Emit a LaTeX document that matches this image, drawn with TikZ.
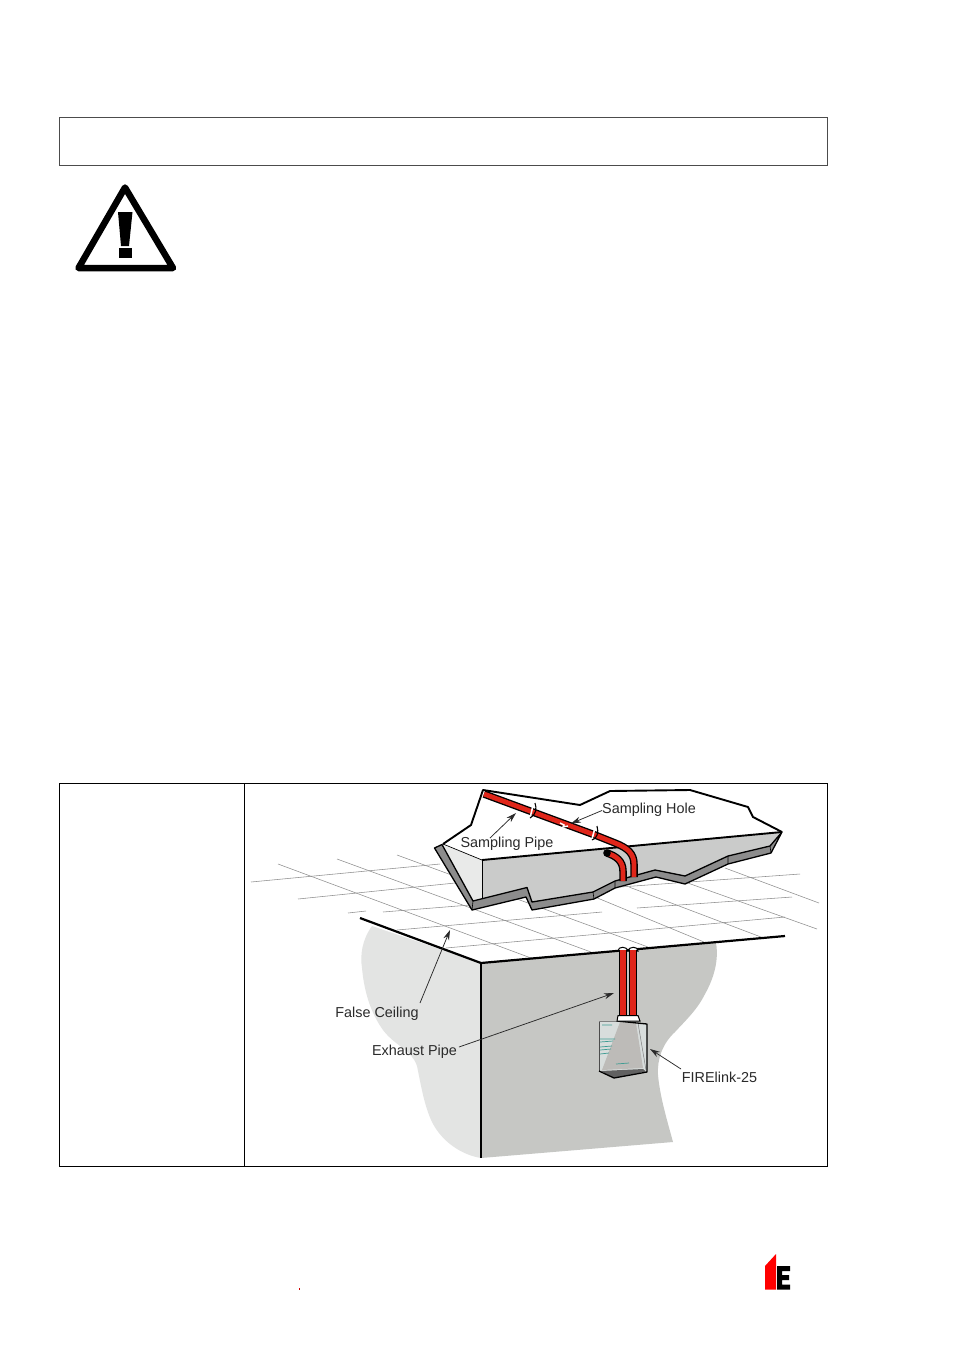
\documentclass[tikz,border=0pt]{standalone}
\usepackage{fontspec}
\setmainfont{Liberation Sans}
\usetikzlibrary{arrows.meta}
\definecolor{wallD}{HTML}{C6C7C4}
\definecolor{wallL}{HTML}{E3E4E3}
\definecolor{pipeR}{HTML}{E0261A}
\definecolor{strip}{HTML}{8C8C8C}
\definecolor{slabF}{HTML}{CACBCA}
\definecolor{slabL}{HTML}{E9EAE9}
\definecolor{gridC}{HTML}{8E8E8E}
\definecolor{labelC}{HTML}{2A2A2A}
\definecolor{teal}{HTML}{3F9C93}
\definecolor{panel}{HTML}{D8DDDC}
\definecolor{wedge}{HTML}{BDBBB8}
\tikzset{
  frame/.style={draw=black,line width=0.9pt},
  gridline/.style={draw=gridC,line width=0.55pt},
  ink/.style={draw=black,line width=1.9pt,line join=round},
  lbl/.style={font=\fontsize{14.4}{16}\selectfont,text=labelC,inner sep=0pt},
  pointer/.style={draw=labelC,line width=0.75pt,-{Stealth[length=10pt,width=6pt]}},
  pipeout/.style={draw=black,line width=8pt},
  pipein/.style={draw=pipeR,line width=5.6pt},
}
\begin{document}
\begin{tikzpicture}[x=1pt,y=-1pt]
\useasboundingbox (0,0) rectangle (954,1350);
\fill[white] (0,0) rectangle (954,1350);

% top box and table
\node[frame,draw=black!70,line width=0.7pt,minimum width=768.5pt,minimum height=48pt,inner sep=0pt] (topbox) at (443.5,141) {};
\node[frame,minimum width=768.5pt,minimum height=383pt,inner sep=0pt] (table) at (443.5,974.5) {};
\coordinate (divT) at (244.5,783);
\coordinate (divB) at (244.5,1166);
\draw[frame] (divT) -- (divB);

% warning sign
\draw[draw=black,line width=6.5pt,line join=round,fill=white] (125,187.5) -- (173,268) -- (78.5,268) -- cycle;
\fill[black] (118,212) -- (132.5,212) -- (129,246) -- (121,246) -- cycle;
\fill[black] (118.5,247.5) rectangle (131.5,257.5);

% wall blobs
\fill[wallL] (372,926) .. controls (362,940) and (360,955) .. (362,968)
  .. controls (364,990) and (370,1012) .. (383,1030)
  .. controls (395,1046) and (412,1050) .. (417,1066)
  .. controls (421,1085) and (424,1105) .. (432,1122)
  .. controls (442,1142) and (462,1155) .. (481,1158)
  -- (481,963) -- cycle;
\fill[wallD] (481,963) -- (716,943)
  .. controls (719,960) and (714,978) .. (705,994)
  .. controls (697,1010) and (686,1020) .. (675,1032)
  .. controls (662,1044) and (657,1060) .. (658,1075)
  .. controls (660,1097) and (667,1120) .. (673,1142)
  -- (481,1158) -- cycle;

% grid
\draw[gridline] (278,864) -- (531,958);
\draw[gridline] (337,859) -- (591,952);
\draw[gridline] (397,855) -- (648,947);
\draw[gridline] (595,897) -- (704,942);
\draw[gridline] (629,887) -- (761,937);
\draw[gridline] (685,882) -- (817,929);
\draw[gridline] (725,868) -- (819,903);
\draw[gridline] (251,882) -- (440,864);
\draw[gridline] (620,887) -- (800,874);
\draw[gridline] (298,899) -- (455,883);
\draw[gridline] (637,908) -- (792,897);
\draw[gridline] (348,913) -- (366,911);
\draw[gridline] (383,912) -- (470,905);
\draw[gridline] (397,930) -- (602,912);
\draw[gridline] (446,948) -- (785,917);

% ceiling and wall edge
\draw[draw=black,line width=2.2pt,line join=round] (360,918) -- (481,963) -- (785,936);
\draw[draw=black,line width=1.5pt] (481,963) -- (481,1158);

% slab
\fill[white] (483,790) -- (580,805) -- (610,791) -- (690,790) -- (748,807) -- (753,817) -- (782,832) -- (482,860) -- (443,844) -- (470,825) -- cycle;
\draw[ink] (443,844) -- (471,825) -- (483,790) -- (580,805) -- (610,791) -- (690,790) -- (748,807) -- (753,817) -- (782,832);
\filldraw[fill=slabL,draw=none] (443,845) -- (482,860) -- (482,900) -- (473,902) -- cycle;
\filldraw[fill=slabF,draw=none] (482,860) -- (782,832) -- (770,847) -- (728,857) -- (685,877) -- (655,871) -- (615,882) -- (593,893) -- (532,903) -- (527,888) -- (482,900) -- cycle;
\draw[draw=black,line width=0.7pt] (443,844) -- (482,860);
\draw[ink] (482,860) -- (782,832);
\draw[draw=black,line width=1pt] (482,860) -- (482,900);
% slab bottom strip
\filldraw[fill=strip,draw=black,line width=1.3pt,line join=round]
  (434.5,848) -- (442,844.5) -- (473,901) -- (527,887.5) -- (532,902) -- (593,892) -- (615,881) -- (655,870) -- (685,876) -- (728,856) -- (770,846) -- (782,832)
  -- (771,853) -- (728,864) -- (685,884) -- (656,877) -- (615,888) -- (594,899) -- (532,910) -- (526,897) -- (472,910) -- cycle;
\draw[draw=black,line width=0.6pt] (473,901) -- (472,910) (593,892) -- (594,899) (615,881) -- (615,888) (728,856) -- (728,864) (770,846) -- (771,853);

% slab pipes
\draw[pipeout,line width=7.5pt] (607,853) .. controls (616,856) and (623,861) .. (623,871) -- (623,881);
\draw[pipein,line width=4.8pt] (608,853.5) .. controls (616,856) and (623,861) .. (623,871) -- (623,881);
\fill[black] (607,853) circle (3.8pt);
\draw[pipeout,line width=7.5pt] (484,794) -- (530,811) -- (595,835) -- (615,843) .. controls (628,848) and (634,854) .. (634,864) -- (634,877);
\draw[pipein,line width=4.8pt] (484,794) -- (530,811) -- (595,835) -- (615,843) .. controls (628,848) and (634,854) .. (634,864) -- (634,877);
\draw[draw=white,line width=1.6pt] (533,805.5) -- (530.5,816);
\draw[draw=black,line width=1.1pt] (535,803) .. controls (537,808) and (536,815) .. (530,818);
\draw[draw=white,line width=1.6pt] (595,828) -- (592,839);
\draw[draw=black,line width=1.1pt] (597,826) .. controls (599,832) and (597,839) .. (592,840);
\draw[draw=white,line width=1.4pt] (560,823) -- (564,825) -- (563,827) -- (568,826);

% wall pipes
\draw[draw=black,line width=1pt,fill=white] (618,951) .. controls (618,946) and (627,946) .. (628,951) .. controls (629,946) and (638,946) .. (638,951) -- cycle;
\draw[pipeout] (623,950) -- (623,1015);
\draw[pipein] (623,950) -- (623,1015);
\draw[pipeout] (633,950) -- (633,1015);
\draw[pipein] (633,950) -- (633,1015);

% FIRElink box
\filldraw[fill=panel,draw=none] (599,1021) -- (647,1024) -- (647,1072) -- (614,1078) -- (599,1071) -- cycle;
\fill[wedge] (620,1022) -- (636,1023) -- (643,1068) -- (602,1070) -- cycle;
\draw[draw=black!50,line width=0.5pt] (638,1023) -- (646,1070);
\filldraw[fill=black!62,draw=none] (601,1071) -- (643,1069) -- (646,1071.5) -- (614,1078) -- cycle;
\draw[draw=black!70,line width=0.8pt] (599,1021) -- (599,1071);
\draw[draw=black,line width=1.3pt,line join=round] (617,1021) -- (647,1024) -- (647,1072) -- (614,1078) -- (599,1071);
\draw[draw=black!50,line width=0.6pt] (599,1021) -- (617,1021);
\filldraw[fill=white,draw=black,line width=1pt] (618,1015.5) -- (638,1015.5) -- (640,1021) -- (617,1021) -- cycle;
\draw[draw=teal,line width=0.7pt] (602,1025) -- (612,1025) (600,1039) -- (615,1039) (600,1042) -- (613,1041) (600,1047) -- (612,1046) (600,1050) -- (611,1049) (600,1054) -- (609,1053) (616,1064) -- (629,1063);

% logo
\fill[red] (765,1289.5) -- (765,1266) -- (776,1254) -- (776,1289.5) -- cycle;
\fill[black] (777,1266) -- (790,1266) -- (790,1271) -- (782,1271) -- (782,1275) -- (789,1275) -- (789,1280) -- (782,1280) -- (782,1284.5) -- (790,1284.5) -- (790,1289.5) -- (777,1289.5) -- cycle;
\fill[red!80!black] (298.5,1288) rectangle (300,1289.5);

% labels
\node[lbl] (hole) at (649,810) {Sampling Hole};
\node[lbl] (spipe) at (507,844) {Sampling Pipe};
\node[lbl] (fceil) at (377,1014) {False Ceiling};
\node[lbl] (expipe) at (414.5,1052) {Exhaust Pipe};
\node[lbl] (flink) at (719.5,1077) {FIRElink-25};
\coordinate (holeT) at (571,823.5);
\coordinate (spipeT) at (516,813);
\coordinate (fceilT) at (450,930);
\coordinate (expipeT) at (614,993);
\coordinate (flinkT) at (650,1049);
\coordinate (holeS) at (602,810.5);
\coordinate (spipeS) at (490,838);
\coordinate (fceilS) at (420,1003);
\coordinate (expipeS) at (459,1047);
\coordinate (flinkS) at (681,1069);
\draw[pointer] (holeS) -- (holeT);
\draw[pointer] (spipeS) -- (spipeT);
\draw[pointer] (fceilS) -- (fceilT);
\draw[pointer] (expipeS) -- (expipeT);
\draw[pointer] (flinkS) -- (flinkT);
\end{tikzpicture}
\end{document}
